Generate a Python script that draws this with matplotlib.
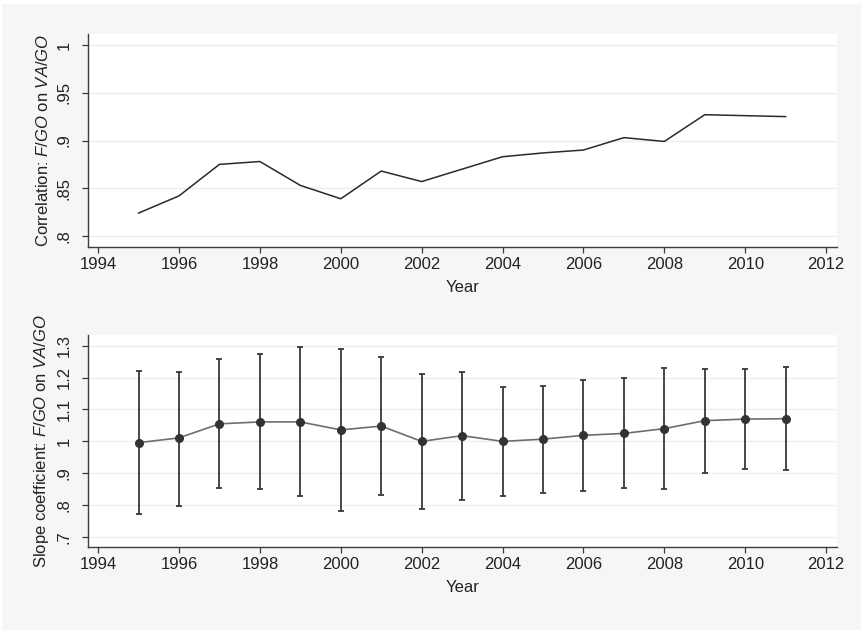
import matplotlib
matplotlib.use("Agg")
import matplotlib.pyplot as plt
from matplotlib.patches import Rectangle

plt.rcParams["font.family"] = ["Liberation Sans", "DejaVu Sans"]
plt.rcParams["mathtext.fontset"] = "custom"
plt.rcParams["mathtext.rm"] = "Liberation Sans"
plt.rcParams["mathtext.it"] = "Liberation Sans:italic"

years = list(range(1995, 2012))

correlation = [0.824, 0.842, 0.875, 0.878, 0.853, 0.839, 0.868, 0.857, 0.870,
               0.883, 0.887, 0.890, 0.903, 0.899, 0.927, 0.926, 0.925]

slope = [0.996, 1.011, 1.055, 1.061, 1.061, 1.036, 1.048, 1.000, 1.018,
         1.000, 1.007, 1.019, 1.025, 1.040, 1.065, 1.070, 1.071]
slope_hi = [1.221, 1.219, 1.257, 1.273, 1.295, 1.289, 1.266, 1.212, 1.218,
            1.171, 1.175, 1.193, 1.198, 1.230, 1.228, 1.228, 1.232]
slope_lo = [0.772, 0.798, 0.854, 0.851, 0.828, 0.782, 0.831, 0.787, 0.817,
            0.829, 0.838, 0.845, 0.854, 0.850, 0.901, 0.913, 0.910]

x_ticks = [1994, 1996, 1998, 2000, 2002, 2004, 2006, 2008, 2010, 2012]
top_ticks = [0.80, 0.85, 0.90, 0.95, 1.00]
top_labels = [".8", ".85", ".9", ".95", "1"]
bot_ticks = [0.7, 0.8, 0.9, 1.0, 1.1, 1.2, 1.3]
bot_labels = [".7", ".8", ".9", "1", "1.1", "1.2", "1.3"]

BG = "#f6f6f6"
SPINE = "#3c3c3c"
GRID = "#efefef"
TEXT = "#222222"
FS = 12

fig = plt.figure(figsize=(8.61, 6.30), dpi=100)
fig.patch.set_facecolor("white")
fig.patches.append(Rectangle((2 / 861, 0), 1, (630 - 4) / 630,
                             transform=fig.transFigure, facecolor=BG,
                             edgecolor="none", zorder=-10))

ax1 = fig.add_axes([88 / 861, (630 - 247) / 630, 749 / 861, 213 / 630])
ax2 = fig.add_axes([88 / 861, (630 - 547.3) / 630, 749 / 861, 212.3 / 630])


def style(ax, yticks, ylabels):
    ax.set_facecolor("white")
    for s in ("top", "right"):
        ax.spines[s].set_visible(False)
    for s in ("left", "bottom"):
        ax.spines[s].set_color(SPINE)
        ax.spines[s].set_linewidth(1.0)
    ax.set_xlim(1993.75, 2012.27)
    ax.set_xticks(x_ticks)
    ax.set_xticklabels([str(t) for t in x_ticks], fontsize=FS, color=TEXT)
    ax.set_yticks(yticks)
    ax.set_yticklabels(ylabels, fontsize=FS, color=TEXT, rotation=90,
                       va="center")
    ax.tick_params(axis="both", direction="out", length=4.6, width=0.9,
                   color=SPINE)
    ax.tick_params(axis="x", pad=2.5)
    ax.tick_params(axis="y", pad=7)
    ax.grid(axis="y", color=GRID, linewidth=1.0)
    ax.set_axisbelow(True)
    ax.set_xlabel("Year", fontsize=FS, color=TEXT, labelpad=6)


# Correlation panel
style(ax1, top_ticks, top_labels)
ax1.set_ylim(0.7885, 1.0115)
ax1.plot(years, correlation, color="#2a2a2a", linewidth=1.1)
ax1.set_ylabel(r"Correlation: $\mathit{F/GO}$ on $\mathit{VA/GO}$",
               fontsize=FS, color=TEXT, labelpad=4)

# Slope coefficient panel with confidence intervals
style(ax2, bot_ticks, bot_labels)
ax2.set_ylim(0.668, 1.3335)
yerr = [[s - l for s, l in zip(slope, slope_lo)],
        [h - s for s, h in zip(slope, slope_hi)]]
ax2.errorbar(years, slope, yerr=yerr, fmt="none", ecolor="#383838",
             elinewidth=1.3, capsize=2.5, capthick=1.3, zorder=2)
ax2.plot(years, slope, color="#6e6e6e", linewidth=1.2, zorder=3)
ax2.plot(years, slope, linestyle="none", marker="o", markersize=5.5,
         color="#333333", zorder=4)
ax2.set_ylabel(r"Slope coefficient: $\mathit{F/GO}$ on $\mathit{VA/GO}$",
               fontsize=FS, color=TEXT, labelpad=4)

fig.savefig("out.png", dpi=100, facecolor=fig.get_facecolor())
